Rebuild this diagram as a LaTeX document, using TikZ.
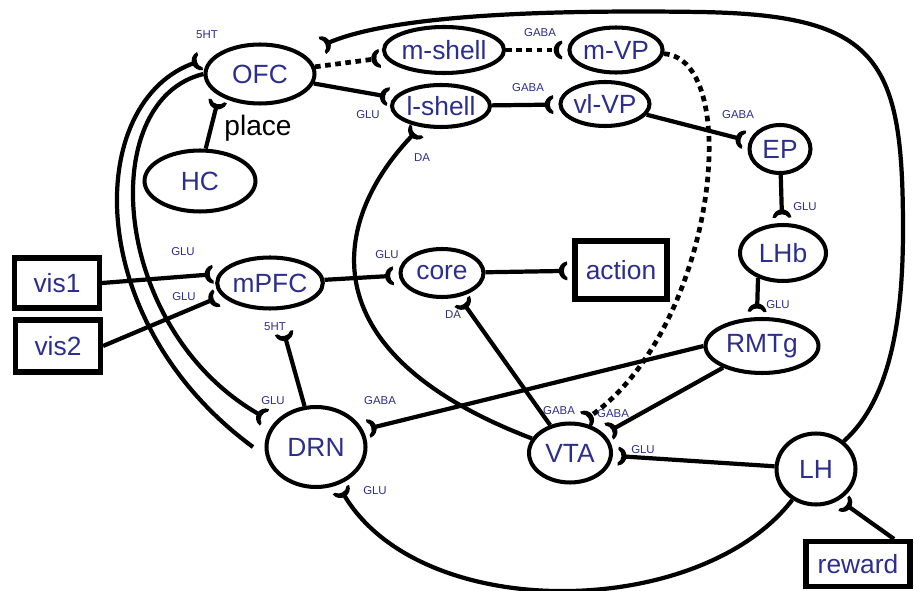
\documentclass[tikz,border=0pt]{standalone}
\usepackage{fontspec}
\setmainfont{Liberation Sans}
\usetikzlibrary{arrows.meta,shapes.geometric}
\definecolor{nblue}{RGB}{43,46,140}
% synapse cup, open towards the target
\pgfdeclarearrow{
  name=Syn,
  parameters={},
  setup code={\pgfarrowssettipend{0pt}\pgfarrowssetlineend{-2pt}%
    \pgfarrowssetbackend{-3.8pt}\pgfarrowssetvisualbackend{-3.8pt}},
  drawing code={
    \pgfpathmoveto{\pgfqpoint{0.9pt}{5.4pt}}
    \pgfpathcurveto{\pgfqpoint{-2.2pt}{4.9pt}}{\pgfqpoint{-3.8pt}{2.4pt}}{\pgfqpoint{-3.8pt}{0pt}}
    \pgfpathcurveto{\pgfqpoint{-3.8pt}{-2.4pt}}{\pgfqpoint{-2.2pt}{-4.9pt}}{\pgfqpoint{0.9pt}{-5.4pt}}
    \pgfpathlineto{\pgfqpoint{1.1pt}{-3.8pt}}
    \pgfpathcurveto{\pgfqpoint{-0.4pt}{-3pt}}{\pgfqpoint{-0.9pt}{-1.4pt}}{\pgfqpoint{-0.9pt}{0pt}}
    \pgfpathcurveto{\pgfqpoint{-0.9pt}{1.4pt}}{\pgfqpoint{-0.4pt}{3pt}}{\pgfqpoint{1.1pt}{3.8pt}}
    \pgfpathclose
    \pgfusepathqfill
  }
}
\tikzset{
 area/.style={draw,ellipse,line width=2.3pt,inner sep=0pt,text=nblue,font=\fontsize{15}{17}\selectfont},
 cue/.style={draw,rectangle,line width=2.9pt,inner sep=0pt,text=nblue,font=\fontsize{15}{17}\selectfont},
 syn/.style={line width=2.4pt,-Syn,shorten >=4pt},
 dots/.style={syn,line width=2.7pt,dash pattern=on 3.2pt off 2.6pt},
 tr/.style={text=nblue,font=\fontsize{6.5}{7}\selectfont,inner sep=0pt}
}
\begin{document}
\begin{tikzpicture}[x=0.02cm,y=-0.02cm]
 \useasboundingbox (0,0) rectangle (914,591);
 % areas
 \node[area,minimum width=2.18cm,minimum height=1.18cm] (OFC) at (260,74) {OFC};
 \node[area,minimum width=2.16cm,minimum height=0.92cm] (mshell) at (444,50) {m-shell};
 \node[area,minimum width=1.96cm,minimum height=0.84cm] (lshell) at (441,106) {l-shell};
 \node[area,minimum width=1.74cm,minimum height=0.90cm] (mVP) at (616,50) {m-VP};
 \node[area,minimum width=1.72cm,minimum height=0.88cm] (vlVP) at (605,104) {vl-VP};
 \node[area,minimum width=1.22cm,minimum height=0.96cm] (EP) at (780,149) {EP};
 \node[area,minimum width=1.72cm,minimum height=1.12cm] (LHb) at (783,253) {LHb};
 \node[area,minimum width=2.26cm,minimum height=1.08cm] (RMTg) at (762,346) {RMTg};
 \node[area,minimum width=1.66cm,minimum height=0.96cm] (core) at (442,273) {core};
 \node[area,minimum width=2.06cm,minimum height=1.02cm] (mPFC) at (270,283) {mPFC};
 \node[area,minimum width=2.22cm,minimum height=1.22cm] (HC) at (200,181) {HC};
 \node[area,minimum width=1.98cm,minimum height=1.60cm] (DRN) at (316,447) {DRN};
 \node[area,minimum width=1.64cm,minimum height=1.18cm] (VTA) at (570,453) {VTA};
 \node[area,minimum width=1.58cm,minimum height=1.42cm] (LH) at (816,469) {LH};
 % inputs and output
 \node[cue,minimum width=1.70cm,minimum height=1.00cm] (vis1) at (57,283) {vis1};
 \node[cue,minimum width=1.70cm,minimum height=1.04cm] (vis2) at (58,346) {vis2};
 \node[cue,minimum width=1.84cm,minimum height=1.16cm] (action) at (621,270) {action};
 \node[cue,minimum width=2.08cm,minimum height=0.90cm] (reward) at (858,564) {reward};
 \coordinate (drnout) at (253,447);

 % projections
 \draw[dots] (OFC) -- (mshell);
 \draw[syn] (OFC) -- (lshell);
 \draw[syn] (HC.80) -- (OFC.208);
 \draw[dots] (mshell) -- (mVP);
 \draw[syn] (lshell) -- (vlVP);
 \draw[syn] (vlVP) -- (EP);
 \draw[syn] (EP) -- (LHb);
 \draw[syn] (LHb.225) -- (RMTg.100);
 \draw[syn] (vis1.east) -- (mPFC.170);
 \draw[syn] (vis2.east) -- (mPFC.195);
 \draw[syn] (mPFC) -- (core);
 \draw[syn] (core) -- (action);
 \draw[syn,shorten >=.5cm] (DRN) -- (mPFC);
 \draw[syn] (VTA) -- (core);
 \draw[syn] (RMTg) -- (VTA);
 \draw[syn] (RMTg.west) -- (DRN.20);
 \draw[syn] (LH) -- (VTA);
 \draw[syn] ([xshift=.72cm]reward.north) -- (LH.307);
 \draw[syn] (VTA) .. controls (300,350) and (335,215) .. (lshell);
 \draw[dots] (mVP) .. controls (745,60) and (715,330) .. (VTA.70);
 \draw[syn] (LH) .. controls (700,620) and (420,625) .. (DRN);
 \draw[syn,shorten >=.25cm] (OFC.west) .. controls (95,100) and (110,330) .. (DRN.150);
 \draw[syn,shorten >=.3cm] (drnout) .. controls (80,320) and (85,100) .. (OFC.160);
 \draw[syn,shorten >=.45cm] (LH.45) .. controls (890,400) and (903,320) .. (903,230)
   .. controls (903,60) and (880,15) .. (700,12) .. controls (500,9) and (380,20) .. (OFC.25);

 % transmitters
 \node[tr] (htOFC) at (207,35) {5HT};
 \node[tr] (gluLs) at (368,115) {GLU};
 \node[tr] (daLs) at (422,158) {DA};
 \node[tr] (gabaMvp) at (540,33) {GABA};
 \node[tr] (gabaVlvp) at (528,88) {GABA};
 \node[tr] (gabaEP) at (738,115) {GABA};
 \node[tr] (gluLHb) at (805,207) {GLU};
 \node[tr] (gluRMTg) at (778,305) {GLU};
 \node[tr] (gluVisA) at (183,252) {GLU};
 \node[tr] (gluVisB) at (184,297) {GLU};
 \node[tr] (gluCore) at (387,255) {GLU};
 \node[tr] (htmPFC) at (275,327) {5HT};
 \node[tr] (daCore) at (453,315) {DA};
 \node[tr] (gluDRN) at (273,401) {GLU};
 \node[tr] (gabaDRN) at (380,401) {GABA};
 \node[tr] (gabaVTAa) at (559,411) {GABA};
 \node[tr] (gabaVTAb) at (613,414) {GABA};
 \node[tr] (gluVTA) at (643,450) {GLU};
 \node[tr] (gluDRNb) at (375,491) {GLU};
 \node[font=\fontsize{16}{18}\selectfont] (place) at (258,128) {place};
\end{tikzpicture}
\end{document}
